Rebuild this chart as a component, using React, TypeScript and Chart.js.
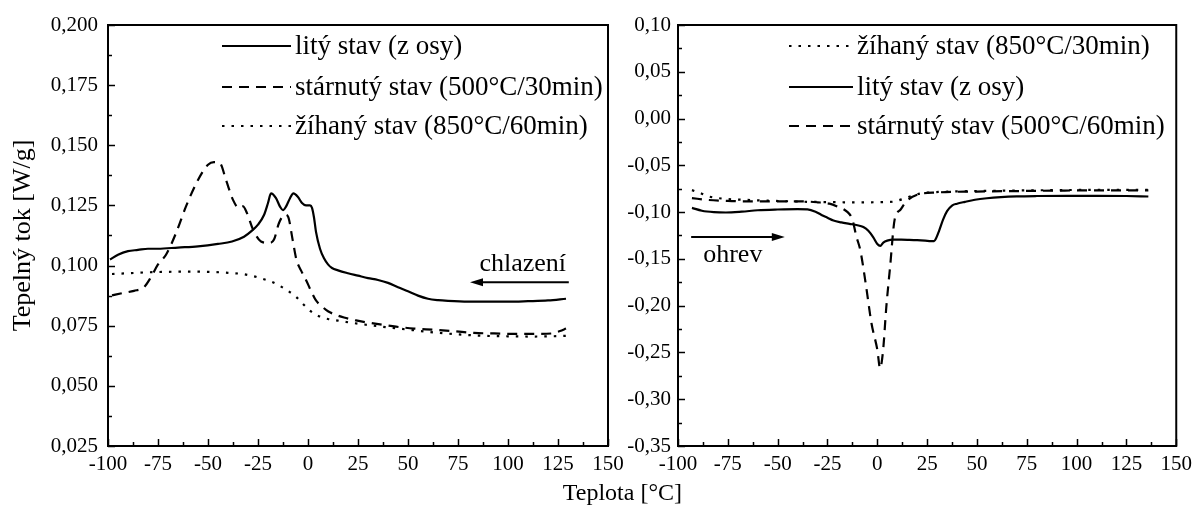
import { useEffect, useRef } from 'react';
import { Chart, registerables } from 'chart.js';

Chart.register(...registerables);

const FONT = '"Liberation Serif", "Times New Roman", serif';

// ---------- Left panel (chlazení / cooling) ----------
const leftCastT = [-99, -95, -90, -85, -80, -75, -65, -55, -45, -38, -32, -28, -25, -22, -20, -18.5, -16, -14, -12.5, -11, -9, -7.3, -5, -3, -1, 1, 2, 3, 4, 6, 8, 10, 12, 15, 20, 25, 30, 35, 40, 45, 50, 55, 60, 65, 70, 80, 90, 100, 110, 120, 129];
const leftCastQ = [0.1025, 0.1045, 0.106, 0.1065, 0.107, 0.107, 0.1075, 0.108, 0.109, 0.110, 0.112, 0.1145, 0.117, 0.121, 0.126, 0.130, 0.128, 0.1245, 0.123, 0.1245, 0.128, 0.130, 0.1285, 0.126, 0.125, 0.125, 0.124, 0.120, 0.114, 0.107, 0.103, 0.1005, 0.099, 0.098, 0.0968, 0.0958, 0.0948, 0.094, 0.0928, 0.091, 0.0893, 0.0875, 0.0862, 0.0856, 0.0853, 0.085, 0.085, 0.085, 0.0852, 0.0855, 0.0862];

const leftAgedT = [-98, -93, -87, -82, -78.5, -75, -71, -66, -61, -55, -50, -47, -44, -41, -37.5, -34.5, -32.5, -30.5, -27.5, -23.5, -19.5, -17, -14.5, -11.5, -10, -7.7, -5.8, -3.5, -1, 1.5, 4, 7, 10, 14, 18, 24, 30, 37, 44, 53, 63, 73, 83, 93, 103, 113, 122, 126, 129];
const leftAgedQ = [0.0876, 0.0885, 0.0895, 0.091, 0.0952, 0.1005, 0.1045, 0.1135, 0.1246, 0.1356, 0.1419, 0.143, 0.1425, 0.1356, 0.1273, 0.1239, 0.1246, 0.1218, 0.115, 0.110, 0.1094, 0.1108, 0.1177, 0.1211, 0.1204, 0.1108, 0.1025, 0.098, 0.094, 0.0895, 0.0855, 0.083, 0.081, 0.0795, 0.0784, 0.0772, 0.0763, 0.0754, 0.0746, 0.0738, 0.0733, 0.0727, 0.072, 0.0718, 0.0716, 0.0716, 0.0718, 0.0728, 0.0738];

const leftAnnealT = [-98, -90, -80, -70, -60, -50, -40, -33, -27, -22, -18, -14, -10, -6, -3, 0, 3, 6, 10, 15, 22, 30, 40, 52, 63, 75, 88, 100, 112, 122, 129];
const leftAnnealQ = [0.0965, 0.0968, 0.0972, 0.0974, 0.0975, 0.0974, 0.097, 0.0965, 0.0955, 0.0943, 0.0932, 0.0915, 0.0895, 0.087, 0.0845, 0.082, 0.080, 0.0788, 0.0778, 0.0771, 0.0762, 0.0753, 0.0743, 0.0732, 0.0722, 0.0714, 0.0708, 0.0706, 0.0705, 0.0706, 0.0708];

// ---------- Right panel (ohrev / heating) ----------
const rightAnnealT = [-93, -89, -85, -78, -67, -55, -45, -35, -25, -15, -5, 3, 8, 11, 14, 18, 22, 28, 38, 50, 70, 90, 110, 136];
const rightAnnealQ = [-0.0765, -0.0795, -0.083, -0.0855, -0.0868, -0.0878, -0.0884, -0.089, -0.0893, -0.0895, -0.0895, -0.0893, -0.0888, -0.0872, -0.0852, -0.0822, -0.0800, -0.0788, -0.078, -0.0775, -0.0769, -0.0765, -0.0762, -0.0762];

const rightCastT = [-93, -88, -82, -76, -68, -60, -50, -40, -35, -31, -28, -25, -22, -18, -14, -10, -7, -4.5, -2, 0, 1.5, 3, 5, 8, 12, 16, 20, 24, 27, 28.5, 29.5, 31, 33, 35, 37.5, 40, 44, 49, 55, 62, 70, 80, 95, 110, 125, 136];
const rightCastQ = [-0.0955, -0.0985, -0.1, -0.1004, -0.0995, -0.098, -0.0972, -0.0968, -0.097, -0.0995, -0.103, -0.106, -0.109, -0.111, -0.1125, -0.114, -0.116, -0.12, -0.127, -0.134, -0.136, -0.1325, -0.1305, -0.1295, -0.1295, -0.1297, -0.130, -0.1305, -0.131, -0.131, -0.128, -0.12, -0.108, -0.099, -0.093, -0.091, -0.089, -0.0868, -0.0852, -0.084, -0.0832, -0.0828, -0.0826, -0.0826, -0.0828, -0.0833];

const rightAgedT = [-93, -85, -75, -66, -55, -45, -37, -30, -24, -20, -16.5, -14, -12.5, -10.5, -8.5, -5.8, -2.9, 0, 1.4, 2.9, 4.5, 6.4, 8.7, 11.6, 14.5, 20, 30, 50, 70, 90, 110, 136];
const rightAgedQ = [-0.085, -0.087, -0.088, -0.0886, -0.0886, -0.0886, -0.0886, -0.0895, -0.091, -0.094, -0.0975, -0.102, -0.108, -0.126, -0.141, -0.1766, -0.219, -0.247, -0.267, -0.248, -0.202, -0.159, -0.108, -0.0975, -0.0886, -0.0815, -0.079, -0.078, -0.0775, -0.077, -0.0768, -0.0768];

// ---------- Labels ----------
const labelCast = 'litý stav (z osy)';
const labelAgedLeft = 'stárnutý stav (500°C/30min)';
const labelAnnealLeft = 'žíhaný stav (850°C/60min)';
const labelAnnealRight = 'žíhaný stav (850°C/30min)';
const labelAgedRight = 'stárnutý stav (500°C/60min)';
const yTitle = 'Tepelný tok [W/g]';
const xTitle = 'Teplota [°C]';
const coolingText = 'chlazení';
const heatingText = 'ohrev';

const SOLID: number[] = [];
const DASHED = [10, 7];
const DOTTED = [2.5, 7];

const pts = (t: number[], q: number[]) => t.map((x, i) => ({ x, y: q[i] }));

const ds = (label: string, t: number[], q: number[], dash: number[]) => ({
  label,
  data: pts(t, q),
  borderColor: '#000',
  borderWidth: 2.2,
  borderDash: dash,
  borderCapStyle: 'butt',
  pointRadius: 0,
  fill: false,
  cubicInterpolationMode: 'monotone',
});

const fmt = (digits: number) => (v: any) => {
  let n = Number(v);
  if (Math.abs(n) < 1e-9) n = 0;
  return n.toFixed(digits).replace('.', ',');
};

const framePlugin = {
  id: 'frame',
  afterDatasetsDraw(chart: any, _args: any, opts: any) {
    const { ctx, chartArea: a, scales } = chart;
    ctx.save();
    ctx.strokeStyle = '#000';
    ctx.lineWidth = 1.5;
    const x = scales.x;
    const nx = Math.round((x.max - x.min) / opts.xMinor);
    for (let i = 0; i <= nx; i++) {
      const v = x.min + i * opts.xMinor;
      const px = Math.round(x.getPixelForValue(v)) + 0.5;
      const len = i % 2 === 0 ? 7 : 4;
      ctx.beginPath();
      ctx.moveTo(px, a.bottom);
      ctx.lineTo(px, a.bottom - len);
      ctx.stroke();
    }
    const y = scales.y;
    const ny = Math.round((y.max - y.min) / opts.yMinor);
    for (let i = 0; i <= ny; i++) {
      const v = y.min + i * opts.yMinor;
      const py = Math.round(y.getPixelForValue(v)) + 0.5;
      const len = i % 2 === 0 ? 7 : 4;
      ctx.beginPath();
      ctx.moveTo(a.left, py);
      ctx.lineTo(a.left + len, py);
      ctx.stroke();
    }
    ctx.lineWidth = 2;
    ctx.strokeRect(a.left, a.top, a.right - a.left, a.bottom - a.top);
    ctx.restore();
  },
};

const legendPlugin = {
  id: 'inlegend',
  afterDatasetsDraw(chart: any, _args: any, opts: any) {
    const { ctx } = chart;
    ctx.save();
    ctx.font = `${opts.fontSize}px ${FONT}`;
    ctx.fillStyle = '#000';
    ctx.textBaseline = 'middle';
    ctx.textAlign = 'left';
    chart.data.datasets.forEach((d: any, i: number) => {
      const yy = opts.rows[i];
      ctx.strokeStyle = '#000';
      ctx.lineWidth = d.borderWidth;
      ctx.setLineDash(d.borderDash || []);
      ctx.beginPath();
      ctx.moveTo(opts.x0, yy);
      ctx.lineTo(opts.x1, yy);
      ctx.stroke();
      ctx.setLineDash([]);
      ctx.fillText(d.label, opts.textX, yy + 1);
    });
    ctx.restore();
  },
};

const notePlugin = {
  id: 'notes',
  afterDatasetsDraw(chart: any, _args: any, opts: any) {
    const { ctx, scales } = chart;
    const X = (v: number) => scales.x.getPixelForValue(v);
    const Y = (v: number) => scales.y.getPixelForValue(v);
    ctx.save();
    ctx.fillStyle = '#000';
    ctx.strokeStyle = '#000';
    ctx.font = `${opts.fontSize}px ${FONT}`;
    ctx.textBaseline = 'middle';
    (opts.texts || []).forEach((t: any) => {
      ctx.textAlign = t.align;
      ctx.fillText(t.text, X(t.x), Y(t.y));
    });
    (opts.arrows || []).forEach((ar: any) => {
      const x0 = X(ar.from), x1 = X(ar.to), yy = Y(ar.y);
      const dir = Math.sign(x1 - x0);
      ctx.lineWidth = 2;
      ctx.beginPath();
      ctx.moveTo(x0, yy);
      ctx.lineTo(x1 - dir * 8, yy);
      ctx.stroke();
      ctx.beginPath();
      ctx.moveTo(x1, yy);
      ctx.lineTo(x1 - dir * 13, yy - 4);
      ctx.lineTo(x1 - dir * 13, yy + 4);
      ctx.closePath();
      ctx.fill();
    });
    ctx.restore();
  },
};

function makeConfig(p: any) {
  return {
    type: 'line',
    data: { datasets: p.datasets },
    plugins: [framePlugin, legendPlugin, notePlugin],
    options: {
      responsive: false,
      animation: false,
      devicePixelRatio: 1,
      layout: { padding: { left: 0, top: 25, right: p.padRight, bottom: 0 } },
      plugins: {
        legend: { display: false },
        tooltip: { enabled: false },
        frame: { xMinor: 12.5, yMinor: p.yMinor },
        inlegend: p.legend,
        notes: p.notes,
      },
      scales: {
        x: {
          type: 'linear',
          min: -100,
          max: 150,
          afterFit: (s: any) => { s.height = 60; },
          grid: { display: false, drawTicks: false, tickLength: 0 },
          border: { display: false },
          ticks: {
            stepSize: 25,
            autoSkip: false,
            maxRotation: 0,
            padding: 6,
            color: '#000',
            font: { family: FONT, size: 21 },
            callback: (v: any) => String(v),
          },
        },
        y: {
          type: 'linear',
          min: p.yMin,
          max: p.yMax,
          afterFit: (s: any) => { s.width = p.yWidth; },
          grid: { display: false, drawTicks: false, tickLength: 0 },
          border: { display: false },
          title: p.yTitle
            ? { display: true, text: p.yTitle, color: '#000', font: { family: FONT, size: 26 }, padding: { top: 8, bottom: 0 } }
            : { display: false },
          ticks: {
            stepSize: p.yStep,
            autoSkip: false,
            padding: p.yPad,
            color: '#000',
            font: { family: FONT, size: 21 },
            callback: fmt(p.yDigits),
          },
        },
      },
    },
  } as any;
}

export default function App() {
  const leftRef = useRef<HTMLCanvasElement>(null);
  const rightRef = useRef<HTMLCanvasElement>(null);

  useEffect(() => {
    const left = new Chart(
      leftRef.current as HTMLCanvasElement,
      makeConfig({
        datasets: [
          ds(labelCast, leftCastT, leftCastQ, SOLID),
          ds(labelAgedLeft, leftAgedT, leftAgedQ, DASHED),
          ds(labelAnnealLeft, leftAnnealT, leftAnnealQ, DOTTED),
        ],
        padRight: 32,
        yWidth: 108,
        yPad: 10,
        yMin: 0.025,
        yMax: 0.2,
        yStep: 0.025,
        yMinor: 0.0125,
        yDigits: 3,
        yTitle,
        legend: { fontSize: 27, x0: 222, x1: 291, textX: 295, rows: [46, 87, 126] },
        notes: {
          fontSize: 26,
          texts: [{ text: coolingText, x: 129, y: 0.1007, align: 'right' }],
          arrows: [{ from: 130.4, to: 81, y: 0.0931 }],
        },
      })
    );
    const right = new Chart(
      rightRef.current as HTMLCanvasElement,
      makeConfig({
        datasets: [
          ds(labelAnnealRight, rightAnnealT, rightAnnealQ, DOTTED),
          ds(labelCast, rightCastT, rightCastQ, SOLID),
          ds(labelAgedRight, rightAgedT, rightAgedQ, DASHED),
        ],
        padRight: 19,
        yWidth: 78,
        yPad: 7,
        yMin: -0.35,
        yMax: 0.1,
        yStep: 0.05,
        yMinor: 0.025,
        yDigits: 2,
        yTitle: null,
        legend: { fontSize: 27, x0: 189, x1: 253, textX: 257, rows: [46, 87, 126] },
        notes: {
          fontSize: 26,
          texts: [{ text: heatingText, x: -72.5, y: -0.1465, align: 'center' }],
          arrows: [{ from: -93.4, to: -46.4, y: -0.1267 }],
        },
      })
    );
    return () => {
      left.destroy();
      right.destroy();
    };
  }, []);

  return (
    <div style={{ position: 'absolute', left: 0, top: 0, width: 1198, height: 506, background: '#fff', overflow: 'hidden' }}>
      <canvas ref={leftRef} width={640} height={506} style={{ position: 'absolute', left: 0, top: 0 }} />
      <canvas ref={rightRef} width={598} height={506} style={{ position: 'absolute', left: 600, top: 0 }} />
      <div
        style={{
          position: 'absolute',
          right: 1198 - 682,
          top: 477,
          fontFamily: FONT,
          fontSize: 24,
          lineHeight: '30px',
          color: '#000',
          whiteSpace: 'nowrap',
        }}
      >
        {xTitle}
      </div>
    </div>
  );
}
